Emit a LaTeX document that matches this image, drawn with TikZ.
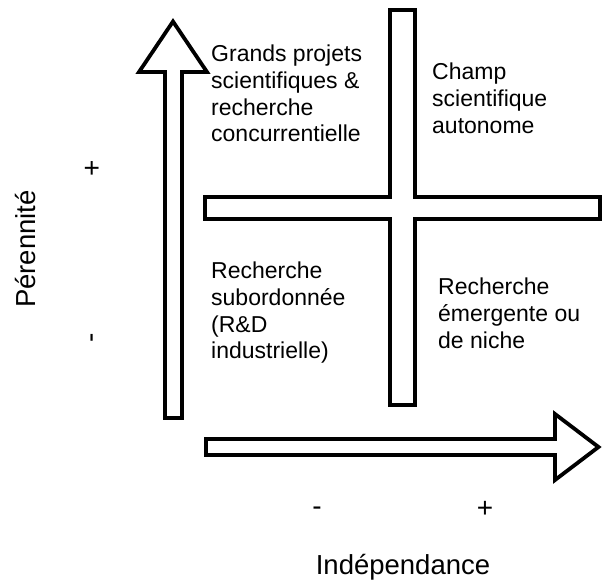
\documentclass[tikz,border=0pt]{standalone}
\usepackage{fontspec}
\setmainfont{Liberation Sans}
\begin{document}
\begin{tikzpicture}[x=1pt,y=-1pt,
  shapeline/.style={draw=black, line width=3.8pt, fill=white, line join=miter},
  quad/.style={anchor=north west, inner sep=0pt, align=left, font=\fontsize{23}{26.7}\selectfont},
  axislabel/.style={inner sep=0pt, font=\fontsize{27.5}{30}\selectfont},
  tick/.style={inner sep=0pt, anchor=base, font=\fontsize{28}{30}\selectfont}]
\useasboundingbox (0,0) rectangle (603,584);
% vertical arrow (Pérennité)
\draw[shapeline] (165,418) -- (165,72) -- (139,72) -- (173,21.5) -- (207,72) -- (182,72) -- (182,418) -- cycle;
% horizontal arrow (Indépendance)
\draw[shapeline] (206,439) -- (555,439) -- (555,414) -- (598.5,447) -- (555,480) -- (555,455) -- (206,455) -- cycle;
% cross
\draw[shapeline] (390,10) -- (415,10) -- (415,197) -- (600,197) -- (600,219) -- (415,219) -- (415,405) -- (390,405) -- (390,219) -- (205,219) -- (205,197) -- (390,197) -- cycle;
% quadrant texts
\node[quad] (q1) at (211,45) {Grands projets\\scientifiques \&\\recherche\\concurrentielle};
\node[quad] (q2) at (432,63) {Champ\\scientifique\\autonome};
\node[quad] (q3) at (211,262) {Recherche\\subordonnée\\(R\&D\\industrielle)};
\node[quad] (q4) at (438,278) {Recherche\\émergente ou\\de niche};
% axis labels
\node[axislabel, anchor=base, rotate=90] (yl) at (35,249) {Pérennité};
\node[axislabel, anchor=base] (xl) at (403,574) {Indépendance};
% ticks
\node[tick, rotate=90] (yp) at (101,168) {+};
\node[tick, rotate=90] (ym) at (99,337.5) {-};
\node[tick] (xm) at (317,515) {-};
\node[tick] (xp) at (485,517) {+};
\end{tikzpicture}
\end{document}
